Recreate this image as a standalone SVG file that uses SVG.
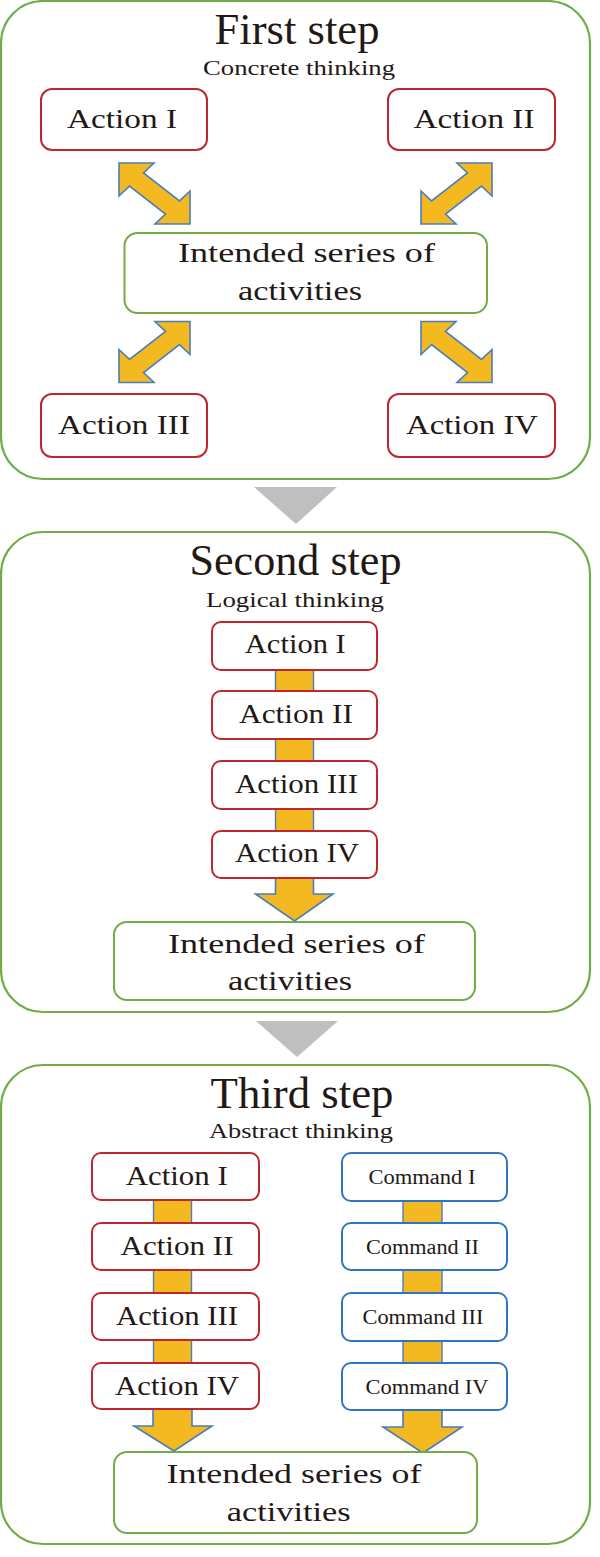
<svg xmlns="http://www.w3.org/2000/svg" width="600" height="1557" viewBox="0 0 600 1557">
<style>
.panel{fill:#fff;stroke:#70AD47;stroke-width:2.2}
.act{fill:#fff;stroke:#C0272D;stroke-width:2}
.cmd{fill:#fff;stroke:#2E75C6;stroke-width:2}
.goal{fill:#fff;stroke:#70AD47;stroke-width:2}
.arr{fill:#F4B820;stroke:#4A7EBB;stroke-width:1.6;stroke-linejoin:miter}
.bar{fill:#F4B820;stroke:#4A7EBB;stroke-width:1.4}
.tri{fill:#BFBFBF}
text{font-family:"Liberation Serif","Times New Roman",serif;fill:#231815;text-anchor:middle}
.title{font-size:44px}
.sub{font-size:22px}
.t{font-size:28px}
.c{font-size:20.5px}
</style>
<defs>
<polygon id="dbl" points="119,163 154,163 143.5,172.9 179.5,200.9 190,191 190,224 155,224 165.5,214.1 129.5,186.1 119,196"/>
</defs>

<g id="panel-1">
<rect class="panel" x="1" y="1" width="589" height="478" rx="42"/>
<text class="title" x="297" y="44" textLength="165" lengthAdjust="spacingAndGlyphs">First step</text>
<text class="sub" x="299" y="75" textLength="192" lengthAdjust="spacingAndGlyphs">Concrete thinking</text>
</g>
<g id="panel-2">
<rect class="panel" x="1" y="532" width="589" height="480" rx="42"/>
<text class="title" x="295.5" y="575" textLength="212" lengthAdjust="spacingAndGlyphs">Second step</text>
<text class="sub" x="295" y="607" textLength="178" lengthAdjust="spacingAndGlyphs">Logical thinking</text>
</g>
<g id="panel-3">
<rect class="panel" x="1" y="1065" width="589" height="479" rx="42"/>
<text class="title" x="302" y="1108" textLength="183" lengthAdjust="spacingAndGlyphs">Third step</text>
<text class="sub" x="301" y="1138" textLength="184" lengthAdjust="spacingAndGlyphs">Abstract thinking</text>
</g>

<g id="connectors">
<polygon class="tri" points="254,487 337,487 296,524"/>
<polygon class="tri" points="256,1021 338,1021 297,1057"/>
<use href="#dbl" class="arr"/>
<use href="#dbl" class="arr" transform="translate(611,0) scale(-1,1)"/>
<use href="#dbl" class="arr" transform="translate(0,545.5) scale(1,-1)"/>
<use href="#dbl" class="arr" transform="translate(611,545.5) scale(-1,-1)"/>
<rect class="bar" x="275.5" y="665" width="38" height="30"/>
<rect class="bar" x="275.5" y="735" width="38" height="30"/>
<rect class="bar" x="275.5" y="805" width="38" height="30"/>
<polygon class="arr" points="275.5,872 313.5,872 313.5,894 333,894 294.5,921 255.5,894 275.5,894"/>
<rect class="bar" x="153.5" y="1196" width="38" height="31"/>
<rect class="bar" x="153.5" y="1266" width="38" height="31"/>
<rect class="bar" x="153.5" y="1336" width="38" height="31"/>
<polygon class="arr" points="153,1402 192,1402 192,1426 212,1426 174,1451 134,1426 153,1426"/>
<rect class="bar" x="403" y="1197" width="39" height="30"/>
<rect class="bar" x="403" y="1266" width="39" height="31"/>
<rect class="bar" x="403" y="1337" width="39" height="30"/>
<polygon class="arr" points="403,1404 442,1404 442,1427 462,1427 423,1453 383,1427 403,1427"/>
</g>

<g id="p1-action-1"><rect class="act" x="41" y="89" width="166" height="61" rx="11"/><text class="t" x="122" y="128" textLength="110" lengthAdjust="spacingAndGlyphs">Action I</text></g>
<g id="p1-action-2"><rect class="act" x="388" y="89" width="167" height="61" rx="11"/><text class="t" x="474" y="128" textLength="121" lengthAdjust="spacingAndGlyphs">Action II</text></g>
<g id="p1-goal"><rect class="goal" x="124.5" y="233" width="362.5" height="80" rx="13"/><text class="t" x="306.5" y="262" textLength="257" lengthAdjust="spacingAndGlyphs">Intended series of</text><text class="t" x="300" y="300" textLength="124" lengthAdjust="spacingAndGlyphs">activities</text></g>
<g id="p1-action-3"><rect class="act" x="41" y="394" width="166" height="63" rx="11"/><text class="t" x="124" y="434" textLength="132" lengthAdjust="spacingAndGlyphs">Action III</text></g>
<g id="p1-action-4"><rect class="act" x="388" y="394" width="167" height="63" rx="11"/><text class="t" x="472" y="434" textLength="132" lengthAdjust="spacingAndGlyphs">Action IV</text></g>

<g id="p2-action-1"><rect class="act" x="212" y="622" width="165" height="48" rx="9"/><text class="t" x="295.3" y="653" textLength="101" lengthAdjust="spacingAndGlyphs">Action I</text></g>
<g id="p2-action-2"><rect class="act" x="212" y="691" width="165" height="48" rx="9"/><text class="t" x="296" y="723" textLength="114" lengthAdjust="spacingAndGlyphs">Action II</text></g>
<g id="p2-action-3"><rect class="act" x="212" y="761" width="165" height="48" rx="9"/><text class="t" x="296.5" y="793" textLength="123" lengthAdjust="spacingAndGlyphs">Action III</text></g>
<g id="p2-action-4"><rect class="act" x="212" y="831" width="165" height="47" rx="9"/><text class="t" x="297" y="862" textLength="124" lengthAdjust="spacingAndGlyphs">Action IV</text></g>
<g id="p2-goal"><rect class="goal" x="114" y="922" width="361" height="78" rx="13"/><text class="t" x="296.5" y="953" textLength="257" lengthAdjust="spacingAndGlyphs">Intended series of</text><text class="t" x="290" y="990" textLength="124" lengthAdjust="spacingAndGlyphs">activities</text></g>

<g id="p3-action-1"><rect class="act" x="92" y="1153" width="167" height="47" rx="9"/><text class="t" x="176.7" y="1185" textLength="102" lengthAdjust="spacingAndGlyphs">Action I</text></g>
<g id="p3-action-2"><rect class="act" x="92" y="1223" width="167" height="47" rx="9"/><text class="t" x="177" y="1255" textLength="113" lengthAdjust="spacingAndGlyphs">Action II</text></g>
<g id="p3-action-3"><rect class="act" x="92" y="1293" width="167" height="47" rx="9"/><text class="t" x="177" y="1325" textLength="122" lengthAdjust="spacingAndGlyphs">Action III</text></g>
<g id="p3-action-4"><rect class="act" x="92" y="1363" width="167" height="46" rx="9"/><text class="t" x="177" y="1395" textLength="124" lengthAdjust="spacingAndGlyphs">Action IV</text></g>
<g id="p3-command-1"><rect class="cmd" x="342" y="1153" width="165" height="48" rx="9"/><text class="c" x="422" y="1184" textLength="107" lengthAdjust="spacingAndGlyphs">Command I</text></g>
<g id="p3-command-2"><rect class="cmd" x="342" y="1223" width="165" height="47" rx="9"/><text class="c" x="422.5" y="1253.5" textLength="113" lengthAdjust="spacingAndGlyphs">Command II</text></g>
<g id="p3-command-3"><rect class="cmd" x="342" y="1293" width="165" height="48" rx="9"/><text class="c" x="423" y="1324" textLength="121" lengthAdjust="spacingAndGlyphs">Command III</text></g>
<g id="p3-command-4"><rect class="cmd" x="342" y="1363" width="165" height="47" rx="9"/><text class="c" x="427" y="1393.5" textLength="123" lengthAdjust="spacingAndGlyphs">Command IV</text></g>
<g id="p3-goal"><rect class="goal" x="114" y="1452" width="363" height="81" rx="13"/><text class="t" x="294" y="1483" textLength="255" lengthAdjust="spacingAndGlyphs">Intended series of</text><text class="t" x="288.7" y="1521" textLength="124" lengthAdjust="spacingAndGlyphs">activities</text></g>
</svg>
